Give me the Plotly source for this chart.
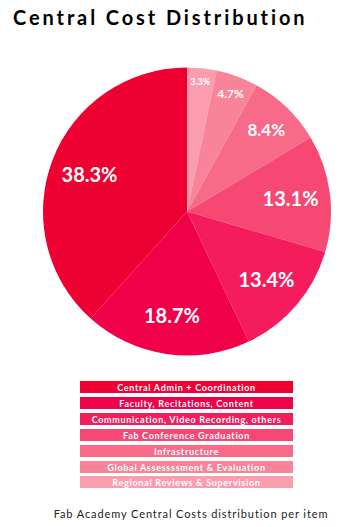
import plotly.graph_objects as go

categories = [
    "Central Admin + Coordination",
    "Faculty, Recitations, Content",
    "Communication, Video Recording, others",
    "Fab Conference Graduation",
    "Infrastructure",
    "Global Assessssment & Evaluation",
    "Regional Reviews & Supervision",
]
values = [38.3, 18.7, 13.4, 13.1, 8.4, 4.7, 3.3]
colors = ["#EE0033", "#F00049", "#F41C5C", "#F64873", "#F76A88", "#F9849A", "#FB9DAF"]
label_sizes = [20, 20, 20, 20, 17, 12, 9]

title_text = "Central Cost Distribution"
subtitle_text = "Fab Academy Central Costs distribution per item"

W, H = 364, 527
FONT = "Lato, 'Noto Sans', sans-serif"


def px(x):
    return x / W


def py(y):
    return 1 - y / H


def spaced(s, sp):
    return f'<span style="letter-spacing:{sp}px">{s}</span>'


# pie drawn clockwise from 12 o'clock in reverse order == counterclockwise in data order
rev = slice(None, None, -1)
dom = dict(x=[px(43), px(331)], y=[py(356), py(67)])

fig = go.Figure()
fig.add_trace(go.Pie(
    labels=categories[rev], values=values[rev], sort=False,
    direction="clockwise", rotation=0,
    marker=dict(colors=colors[rev], line=dict(width=0)),
    textinfo="none", hoverinfo="label+percent",
    domain=dom, showlegend=False,
))
fig.add_trace(go.Pie(
    labels=categories[rev], values=values[rev], sort=False,
    direction="clockwise", rotation=0, hole=0.45,
    marker=dict(colors=["rgba(0,0,0,0)"] * len(values), line=dict(width=0)),
    texttemplate="%{value:.1f}%", textinfo="text",
    textposition="inside", insidetextorientation="horizontal",
    textfont=dict(family=FONT, color="white", size=label_sizes[rev], weight="bold"),
    hoverinfo="skip",
    domain=dom, showlegend=False,
))

annotations = []
annotations.append(dict(
    text=spaced(title_text, 2.9), x=px(11), y=py(17), xref="paper", yref="paper",
    xanchor="left", yanchor="middle", showarrow=False, width=330, align="left",
    font=dict(family=FONT, size=20, color="#000000", weight="bold"),
))
bar_top = 381
pitch = 15.9
for i, (cat, col) in enumerate(zip(categories, colors)):
    yc = bar_top + 6 + i * pitch
    annotations.append(dict(
        text=spaced(cat, 0.7), x=px(186.5), y=py(yc), xref="paper", yref="paper",
        xanchor="center", yanchor="middle", showarrow=False,
        width=213, height=12, bgcolor=col, borderpad=0, borderwidth=0,
        align="center", valign="middle",
        font=dict(family=FONT, size=9, color="white", weight="bold"),
    ))
annotations.append(dict(
    text=spaced(subtitle_text, 0.9), x=px(191), y=py(513), xref="paper", yref="paper",
    xanchor="center", yanchor="middle", showarrow=False, width=300, align="center",
    font=dict(family=FONT, size=11, color="#222222"),
))

fig.update_layout(
    width=W, height=H,
    margin=dict(l=0, r=0, t=0, b=0),
    paper_bgcolor="white", plot_bgcolor="white",
    annotations=annotations,
)

# remove the browser's default 8px body margin so the figure fills the window exactly
fig.write_html(
    "out.html",
    config={"displayModeBar": False},
    post_script="document.body.style.margin='0px';",
)
